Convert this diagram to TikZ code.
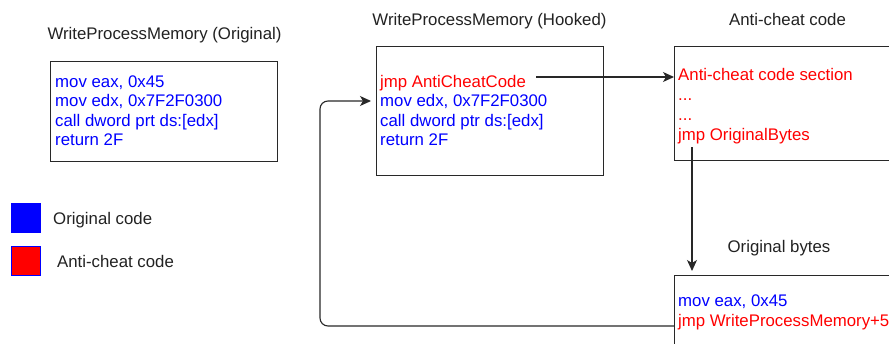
\documentclass[tikz,border=0pt]{standalone}
\usepackage{fontspec}
\setmainfont{Liberation Sans}
\usetikzlibrary{arrows.meta}
\definecolor{codeblue}{RGB}{0,0,255}
\definecolor{codered}{RGB}{255,0,0}
\definecolor{inkgray}{RGB}{40,40,40}
\definecolor{titlegray}{RGB}{34,34,34}

\begin{document}
\begin{tikzpicture}[x=1pt,y=-1pt,
  codebox/.style={draw=inkgray, line width=1.1pt, minimum width=227pt, inner sep=0pt, anchor=north west},
  caption/.style={text=titlegray, font=\fontsize{16.8}{20}\selectfont, anchor=base, inner sep=0pt},
  codeline/.style={font=\fontsize{16.8}{20}\selectfont, anchor=base west, inner sep=0pt},
  blueline/.style={codeline, text=codeblue},
  redline/.style={codeline, text=codered},
  keytext/.style={codeline, text=titlegray},
  swatch/.style={draw=codeblue, line width=0.9pt, minimum size=29pt, inner sep=0pt, anchor=north west},
  flow/.style={draw=inkgray, line width=1.1pt, -{Stealth[length=11pt,width=10pt,inset=3pt]}},
]
\useasboundingbox (0,0) rectangle (889,343);
\fill[white] (0,0) rectangle (889,343);
\clip (0,0) rectangle (889,343);

% ---- boxes ----
\node[codebox, minimum height=100pt] (orig) at (50,61) {};
\node[codebox, minimum height=129pt] (hook) at (376,46) {};
\node[codebox, minimum height=114pt] (acc)  at (674,46) {};
\node[codebox, minimum height=100pt] (orb)  at (674,275) {};

% ---- captions ----
\node[caption] (origtitle) at (164.5,39.3) {WriteProcessMemory (Original)};
\node[caption] (hooktitle) at (489.5,25) {WriteProcessMemory (Hooked)};
\node[caption] (acctitle)  at (787.5,25) {Anti-cheat code};
\node[caption] (orbtitle)  at (779,252.7) {Original bytes};

% ---- original function ----
\node[blueline] (o1) at (55,87.3)  {mov eax, 0x45};
\node[blueline] (o2) at (55,106.8) {mov edx, 0x7F2F0300};
\node[blueline] (o3) at (55,126.3) {call dword prt ds:[edx]};
\node[blueline] (o4) at (55,145.8) {return 2F};

% ---- hooked function ----
\node[redline]  (h1) at (380,87.3)  {jmp AntiCheatCode};
\node[blueline] (h2) at (380,106.8) {mov edx, 0x7F2F0300};
\node[blueline] (h3) at (380,126.3) {call dword ptr ds:[edx]};
\node[blueline] (h4) at (380,145.8) {return 2F};

% ---- anti-cheat section ----
\node[redline] (a1) at (678,80)  {Anti-cheat code section};
\node[redline] (a2) at (678,100) {...};
\node[redline] (a3) at (678,120) {...};
\node[redline] (a4) at (678,140) {jmp OriginalBytes};

% ---- saved original bytes ----
\node[blueline] (b1) at (678,306.7) {mov eax, 0x45};
\node[redline]  (b2) at (678,326.7) {jmp WriteProcessMemory+5};

% ---- legend ----
\node[swatch, fill=codeblue] (keyorig) at (11,203) {};
\node[swatch, fill=codered]  (keyacc)  at (11,246) {};
\node[keytext] (keyorigtext) at (53,224)   {Original code};
\node[keytext] (keyacctext)  at (57,267.3) {Anti-cheat code};

% ---- control flow ----
\coordinate (hookout) at (536,77);
\draw[flow] (hookout) -- (hookout -| acc.west);

\coordinate (accout) at (692,147);
\draw[flow, shorten >=4pt] (accout) -- (accout |- orb.north);

\coordinate (retout) at (674,326);
\coordinate (lane)   at (320,101);
\coordinate (retin)  at (371,101);
\draw[flow, rounded corners=8pt] (retout) -| (lane) -- (retin);
\end{tikzpicture}
\end{document}
